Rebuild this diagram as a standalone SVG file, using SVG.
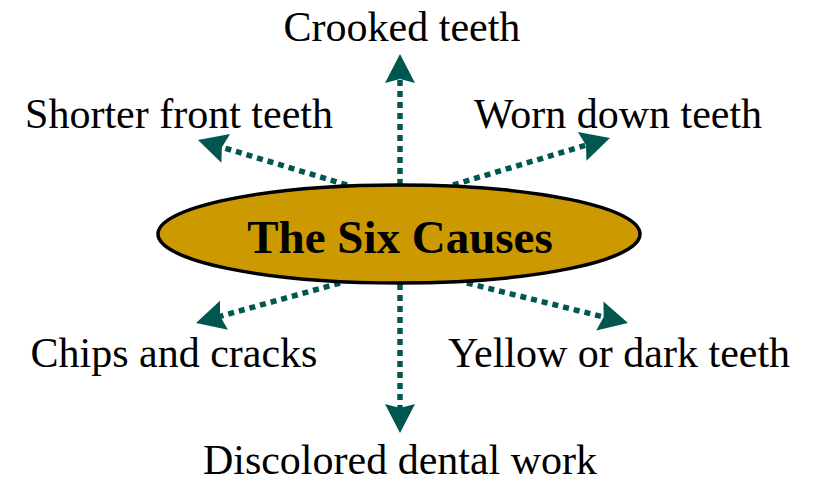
<svg xmlns="http://www.w3.org/2000/svg" width="814" height="484" viewBox="0 0 814 484">
<style>
.lbl{font-family:"Liberation Serif","Times New Roman",serif;font-size:42px;fill:#000;text-anchor:middle}
.title{font-family:"Liberation Serif","Times New Roman",serif;font-size:47px;font-weight:bold;fill:#000;text-anchor:middle}
.conn{stroke:#00574f;stroke-width:5.5;stroke-dasharray:6 5;fill:none;marker-end:url(#ah)}
</style>
<defs>
<marker id="ah" markerUnits="userSpaceOnUse" markerWidth="60" markerHeight="60" refX="0" refY="0" viewBox="-30 -30 60 60" orient="auto" overflow="visible">
<path d="M25,0 L-4,-15 L0,0 L-4,15 Z" fill="#00574f"/>
</marker>
</defs>
<rect width="814" height="484" fill="#fff"/>
<g id="connectors">
<line class="conn" x1="400" y1="185" x2="400" y2="79"/>
<line class="conn" x1="400" y1="284" x2="400" y2="408"/>
<line class="conn" x1="347" y1="185" x2="221.9" y2="147.2"/>
<line class="conn" x1="453" y1="185" x2="586" y2="145.2"/>
<line class="conn" x1="340" y1="283" x2="220.1" y2="316.3"/>
<line class="conn" x1="467" y1="283" x2="603.7" y2="317"/>
</g>
<g id="center">
<ellipse cx="399" cy="234" rx="241" ry="49" fill="#cc9900" stroke="#000" stroke-width="3.5"/>
<text class="title" x="400" y="253">The Six Causes</text>
</g>
<g id="crooked"><text class="lbl" x="402" y="41">Crooked teeth</text></g>
<g id="shorter"><text class="lbl" x="179" y="128">Shorter front teeth</text></g>
<g id="worn"><text class="lbl" x="618" y="128">Worn down teeth</text></g>
<g id="chips"><text class="lbl" x="174" y="367">Chips and cracks</text></g>
<g id="yellow"><text class="lbl" x="619" y="367">Yellow or dark teeth</text></g>
<g id="discolored"><text class="lbl" x="400" y="474">Discolored dental work</text></g>
</svg>
